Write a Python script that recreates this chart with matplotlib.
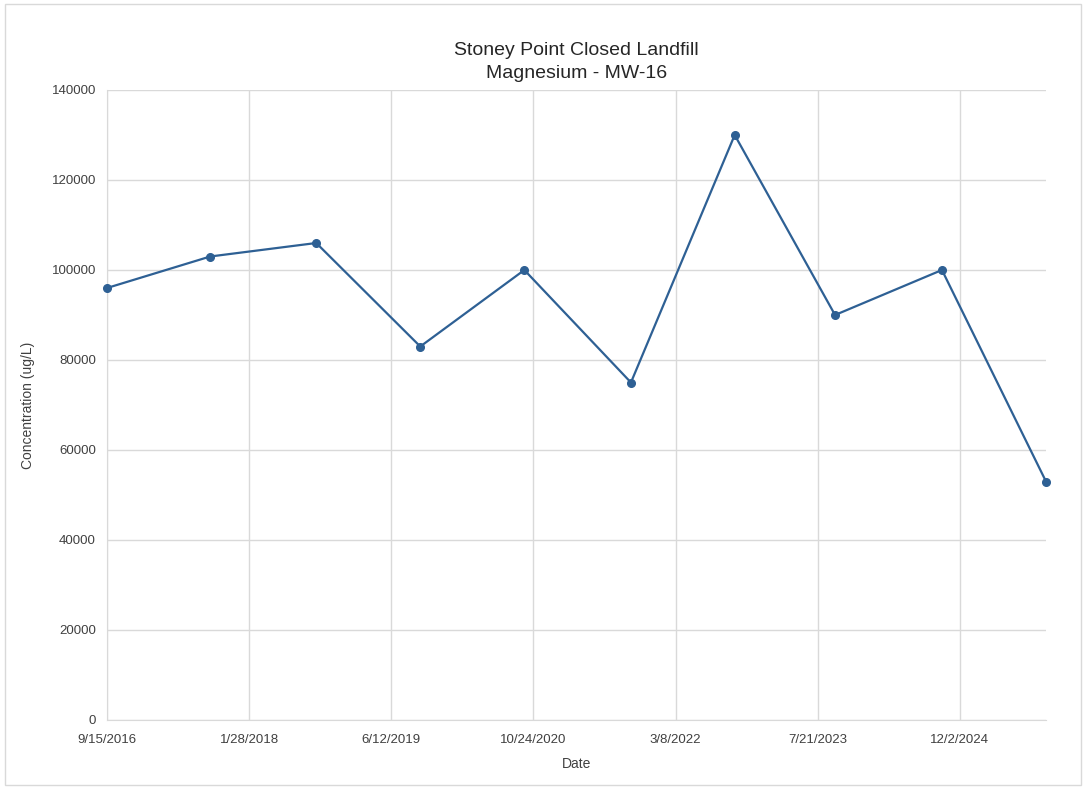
import pandas as pd
import matplotlib
matplotlib.use('Agg')
import matplotlib.pyplot as plt
from matplotlib.patches import Rectangle

# Sample data
dates = ['2016-09-15', '2017-09-13', '2018-09-21', '2019-09-22', '2020-09-22',
         '2021-10-02', '2022-10-02', '2023-09-20', '2024-09-30', '2025-10-01']
magnesium = [96000, 103000, 106000, 83000, 100000, 75000, 130000, 90000, 100000, 53000]
tick_dates = ['2016-09-15', '2018-01-28', '2019-06-12', '2020-10-24',
              '2022-03-08', '2023-07-21', '2024-12-02']
tick_labels = ['9/15/2016', '1/28/2018', '6/12/2019', '10/24/2020',
               '3/8/2022', '7/21/2023', '12/2/2024']
y_ticks = [0, 20000, 40000, 60000, 80000, 100000, 120000, 140000]

plt.rcParams['font.family'] = ['Liberation Sans', 'DejaVu Sans']

x = pd.to_datetime(dates)
xt = pd.to_datetime(tick_dates)

fig = plt.figure(figsize=(10.86, 7.88), dpi=100)
fig.patches.append(Rectangle((5 / 1086, 3 / 788), 1076 / 1086, 781 / 788,
                             transform=fig.transFigure, fill=False,
                             edgecolor='#D9D9D9', lw=1))
ax = fig.add_axes([107 / 1086, 68 / 788, 939 / 1086, 630 / 788])

ax.plot(x, magnesium, color='#2E6094', lw=1.6, marker='o', markersize=5.5,
        clip_on=False, zorder=3)

ax.set_xlim(x[0], x[-1])
ax.set_ylim(0, 140000)
ax.set_xticks(xt)
ax.set_xticklabels(tick_labels)
ax.set_yticks(y_ticks)
ax.set_yticklabels([str(v) for v in y_ticks])

ax.grid(True, color='#D9D9D9', lw=1)
ax.set_axisbelow(True)
for s in ['top', 'right']:
    ax.spines[s].set_visible(False)
for s in ['left', 'bottom']:
    ax.spines[s].set_color('#D9D9D9')
ax.tick_params(length=0, labelsize=9.5, colors='#404040', pad=8)
ax.tick_params(axis='x', pad=10)

ax.set_xlabel('Date', fontsize=10, color='#404040', labelpad=8)
ax.set_ylabel('Concentration (ug/L)', fontsize=10, color='#404040', labelpad=12)
ax.set_title('Stoney Point Closed Landfill\nMagnesium - MW-16', fontsize=14,
             color='#262626', pad=9, linespacing=1.45)

fig.savefig('out.png', dpi=100)
